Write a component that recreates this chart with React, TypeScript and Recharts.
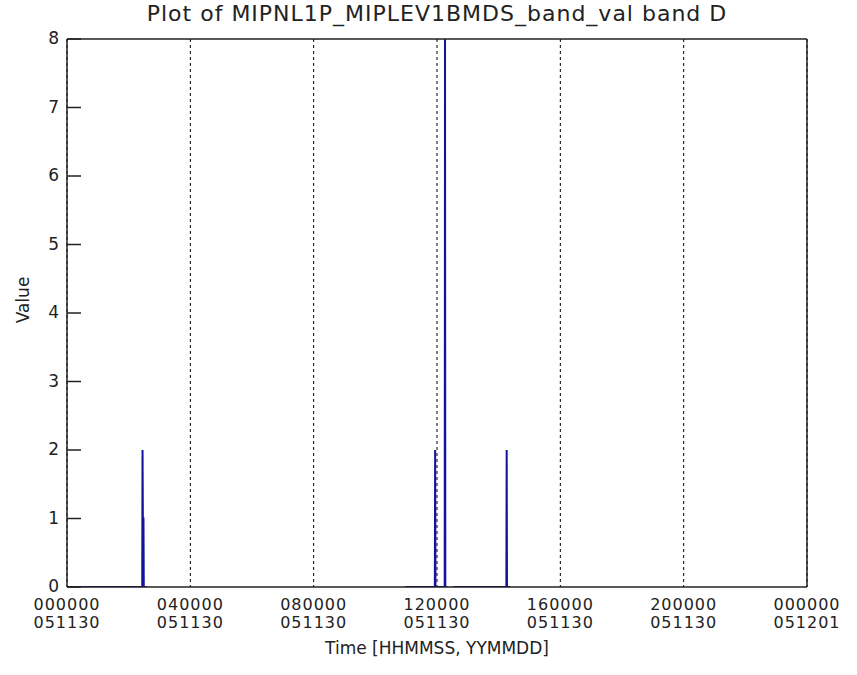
import { LineChart, Line, XAxis, YAxis, CartesianGrid } from "recharts";

// time in hours after 000000 051130, value of band D (null = no data)
const hours = [
  0, 2.44, 2.45, 2.46, 2.48, 2.49, 2.59, 2.62,
  10.96, 11.93, 11.94, 11.95, 12.25, 12.26, 12.27, 12.33, 12.42,
  12.52, 14.25, 14.26, 14.27, 14.37,
];
const values: (number | null)[] = [
  0, 0, 2, 1, 1, 0, 0, null,
  0, 0, 2, 0, 0, 8, 0, 0, null,
  0, 0, 2, 0, 0,
];

const xTicks = [0, 4, 8, 12, 16, 20, 24];
const timeLabels = ["000000", "040000", "080000", "120000", "160000", "200000", "000000"];
const dateLabels = ["051130", "051130", "051130", "051130", "051130", "051130", "051201"];
const yTicks = [0, 1, 2, 3, 4, 5, 6, 7, 8];

const data = hours.map((h, i) => ({ t: h, v: values[i] }));

const FONT = "DejaVu Sans, sans-serif";
const INK = "#222";

function BottomTick(props: any) {
  const { x, y, index } = props;
  return (
    <text x={x} y={y} textAnchor="middle" fontFamily={FONT} fontSize={16} letterSpacing={1} fill={INK}>
      <tspan x={x} dy={23}>{timeLabels[index]}</tspan>
      <tspan x={x} dy={18}>{dateLabels[index]}</tspan>
    </text>
  );
}

function LeftTick(props: any) {
  const { x, y, payload } = props;
  return (
    <g>
      <line x1={x + 8} x2={x + 22} y1={y} y2={y} stroke={INK} strokeWidth={1.5} />
      <text x={x} y={y} dy={5} textAnchor="end" fontFamily={FONT} fontSize={17} fill={INK}>
        {payload.value}
      </text>
    </g>
  );
}

function RightTick(props: any) {
  const { x, y } = props;
  return <line x1={x - 14} x2={x} y1={y} y2={y} stroke={INK} strokeWidth={1.5} />;
}

export default function App() {
  return (
    <div style={{ position: "absolute", left: 0, top: 0, width: 857, height: 675, background: "#fff" }}>
      <div
        style={{
          position: "absolute",
          left: 67,
          width: 740,
          top: 1,
          textAlign: "center",
          fontFamily: FONT,
          fontSize: 22,
          letterSpacing: 1,
          color: INK,
        }}
      >
        Plot of MIPNL1P_MIPLEV1BMDS_band_val band D
      </div>
      <div
        style={{
          position: "absolute",
          left: 23,
          top: 300,
          transform: "translate(-50%, -50%) rotate(-90deg)",
          fontFamily: FONT,
          fontSize: 17,
          color: INK,
        }}
      >
        Value
      </div>
      <LineChart width={857} height={675} data={data} margin={{ top: 38, right: 49, bottom: 0, left: 0 }}>
        <CartesianGrid horizontal={false} stroke="#000" strokeDasharray="3 3" />
        <XAxis
          dataKey="t"
          type="number"
          domain={[0, 24]}
          ticks={xTicks}
          interval={0}
          height={88}
          tickSize={0}
          tickMargin={0}
          tickLine={false}
          axisLine={{ stroke: INK, strokeWidth: 1.5 }}
          tick={<BottomTick />}
          label={{
            value: "Time [HHMMSS, YYMMDD]",
            position: "insideBottom",
            offset: 21,
            style: { fontFamily: FONT, fontSize: 17, fill: INK },
          }}
        />
        <XAxis
          xAxisId="top"
          orientation="top"
          dataKey="t"
          type="number"
          domain={[0, 24]}
          height={1}
          tick={false}
          tickLine={false}
          axisLine={{ stroke: INK, strokeWidth: 1.5 }}
        />
        <YAxis
          domain={[0, 8]}
          ticks={yTicks}
          interval={0}
          width={67}
          tickSize={0}
          tickMargin={8}
          tickLine={false}
          allowDataOverflow
          axisLine={{ stroke: INK, strokeWidth: 1.5 }}
          tick={<LeftTick />}
        />
        <YAxis
          yAxisId="right"
          orientation="right"
          domain={[0, 8]}
          ticks={yTicks}
          interval={0}
          width={1}
          tickSize={0}
          tickMargin={0}
          tickLine={false}
          axisLine={{ stroke: INK, strokeWidth: 1.5 }}
          tick={<RightTick />}
        />
        <Line
          type="linear"
          dataKey="v"
          stroke="#12129c"
          strokeWidth={2}
          dot={false}
          connectNulls={false}
          isAnimationActive={false}
        />
      </LineChart>
    </div>
  );
}
